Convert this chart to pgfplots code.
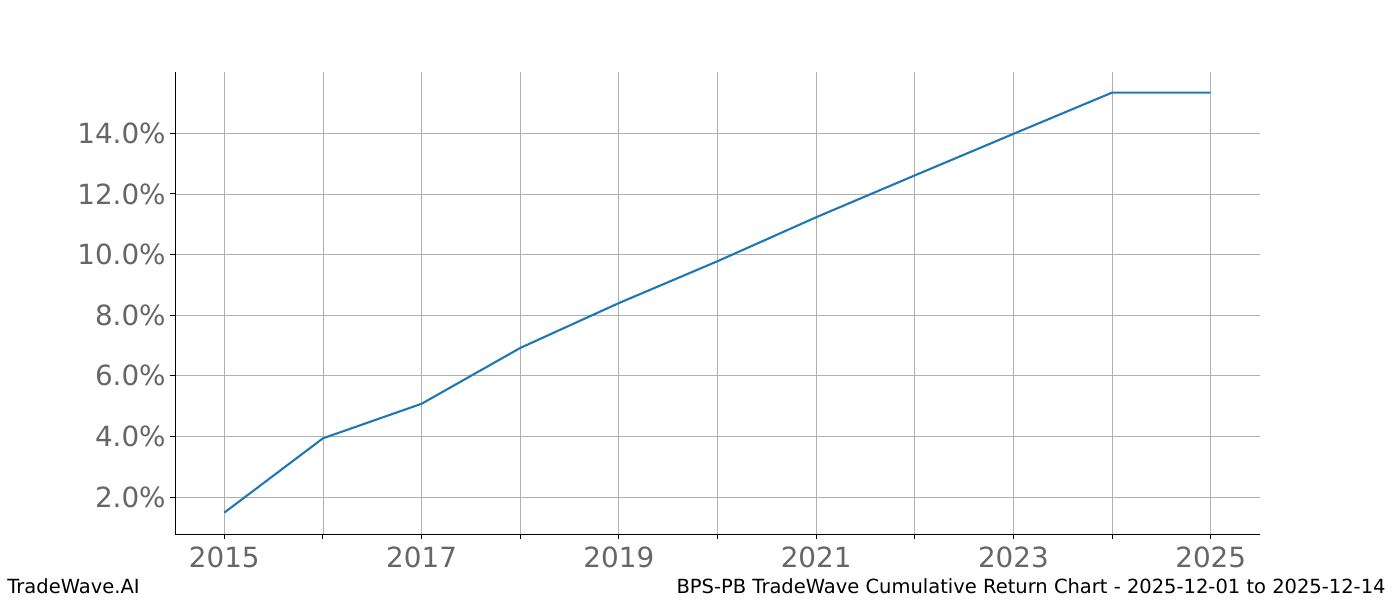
\documentclass[border=0pt]{standalone}
\usepackage{pgfplots}
\pgfplotsset{compat=1.18}
\usepackage{fontspec}
\setmainfont{DejaVu Sans}
\definecolor{mplblue}{HTML}{1F77B4}
\definecolor{ticktext}{HTML}{666666}
\definecolor{gridgray}{HTML}{B0B0B0}

\begin{document}
\begin{tikzpicture}
\path[use as bounding box] (0,0) rectangle (700pt,300pt);
\begin{axis}[
    at={(87.5pt,33pt)},
    anchor=south west,
    scale only axis,
    width=542.5pt,
    height=231pt,
    xmin=2014.5, xmax=2025.5,
    ymin=0.785, ymax=16.02,
    axis x line*=bottom,
    axis y line*=left,
    axis line style={-, black, line width=0.5pt},
    tick align=outside,
    major tick length=2.45pt,
    tick style={black, line width=0.5pt},
    xtick={2015,2016,...,2025},
    xticklabels={2015,,2017,,2019,,2021,,2023,,2025},
    ytick={2,4,...,14},
    yticklabels={2.0\%,4.0\%,6.0\%,8.0\%,10.0\%,12.0\%,14.0\%},
    ticklabel style={font=\fontsize{13.9}{16}\selectfont, text=ticktext},
    xticklabel style={yshift=-0.5pt},
    yticklabel style={xshift=1.3pt},
    xmajorgrids=true,
    ymajorgrids=true,
    grid style={gridgray, line width=0.4pt},
    clip=false,
]
\addplot[color=mplblue, line width=1.05pt] coordinates {
    (2015,1.49)(2016,3.94)(2017,5.08)(2018,6.92)(2019,8.40)(2020,9.78)
    (2021,11.23)(2022,12.61)(2023,13.98)(2024,15.34)(2025,15.34)
};
\end{axis}
\node[anchor=base west, font=\fontsize{9.75}{11}\selectfont, inner sep=0pt] at (3.5pt,3.2pt) {TradeWave.AI};
\node[anchor=base east, font=\fontsize{9.75}{11}\selectfont, inner sep=0pt] at (693pt,3.2pt) {BPS-PB TradeWave Cumulative Return Chart - 2025-12-01 to 2025-12-14};
\end{tikzpicture}
\end{document}
